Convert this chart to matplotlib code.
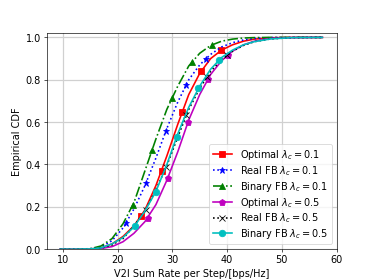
import matplotlib
matplotlib.use('Agg')
import matplotlib.pyplot as plt

plt.rcParams['font.size'] = 12

# sum rate grid (bps/Hz) for the CDF curves
rate = [9.5, 12, 15, 17, 19, 21, 23, 25, 27, 29, 31, 33, 35, 37, 39, 41, 43, 45, 48, 52, 57.4]

# CDF values
cdf_opt_01 = [0, 0, 0.001, 0.006, 0.025, 0.06, 0.11, 0.185, 0.30, 0.44, 0.59, 0.73, 0.83, 0.90, 0.94,
              0.965, 0.982, 0.992, 0.998, 1.0, 1.0]
cdf_real_01 = [0, 0, 0.002, 0.01, 0.04, 0.10, 0.19, 0.30, 0.43, 0.57, 0.695, 0.80, 0.87, 0.92, 0.955,
               0.975, 0.988, 0.995, 0.999, 1.0, 1.0]
cdf_bin_01 = [0, 0, 0.002, 0.015, 0.05, 0.12, 0.22, 0.37, 0.52, 0.66, 0.77, 0.865, 0.925, 0.962, 0.982,
              0.992, 0.997, 0.999, 1.0, 1.0, 1.0]
cdf_opt_05 = [0, 0, 0, 0.003, 0.012, 0.035, 0.075, 0.13, 0.21, 0.325, 0.46, 0.61, 0.73, 0.825, 0.89,
              0.935, 0.965, 0.982, 0.995, 0.999, 1.0]
cdf_real_05 = [0, 0, 0.001, 0.005, 0.02, 0.05, 0.11, 0.18, 0.28, 0.395, 0.53, 0.66, 0.76, 0.84, 0.895,
               0.935, 0.962, 0.98, 0.993, 0.999, 1.0]
cdf_bin_05 = [0, 0, 0.001, 0.006, 0.025, 0.055, 0.105, 0.18, 0.272, 0.40, 0.545, 0.67, 0.77, 0.85, 0.905,
              0.94, 0.965, 0.98, 0.993, 0.999, 1.0]

# marker points
mk_opt_01 = ([24.33, 28.05, 31.7, 35.3, 38.96], [0.158, 0.371, 0.646, 0.841, 0.940])
mk_real_01 = ([21.5, 25.2, 28.8, 32.5, 36.2], [0.122, 0.311, 0.558, 0.776, 0.899])
mk_bin_01 = ([22.8, 26.3, 29.9, 33.6, 37.3], [0.21, 0.466, 0.714, 0.883, 0.966])
mk_opt_05 = ([25.55, 29.2, 32.87, 36.5, 40.1], [0.147, 0.338, 0.602, 0.804, 0.917])
mk_real_05 = ([25.2, 28.9, 32.56, 36.3, 40.06], [0.186, 0.39, 0.635, 0.812, 0.917])
mk_bin_05 = ([23.2, 27.0, 30.8, 34.7, 38.5], [0.111, 0.272, 0.53, 0.759, 0.893])

labels = [r'Optimal $\lambda_c = 0.1$', r'Real FB $\lambda_c = 0.1$', r'Binary FB $\lambda_c = 0.1$',
          r'Optimal $\lambda_c = 0.5$', r'Real FB $\lambda_c = 0.5$', r'Binary FB $\lambda_c = 0.5$']

series = [
    (cdf_opt_01, mk_opt_01, 'r', '-', 's'),
    (cdf_real_01, mk_real_01, 'b', ':', '*'),
    (cdf_bin_01, mk_bin_01, 'g', '-.', '^'),
    (cdf_opt_05, mk_opt_05, 'm', '-', 'p'),
    (cdf_real_05, mk_real_05, 'k', ':', 'x'),
    (cdf_bin_05, mk_bin_05, 'c', '-', 'o'),
]

fig = plt.figure(figsize=(6.4, 4.8), dpi=374 / 6.4)
ax = fig.add_subplot(1, 1, 1)

handles = []
for (cdf, mk, c, ls, m), lab in zip(series, labels):
    line, = ax.plot(rate, cdf, color=c, linestyle=ls, linewidth=2)
    pts, = ax.plot(mk[0], mk[1], color=c, linestyle='none', marker=m, markersize=8)
    handles.append((line, pts))

ax.set(xlabel='V2I Sum Rate per Step/[bps/Hz]',
       ylabel='Empirical CDF',
       xlim=(7.07, 60),
       ylim=(0, 1.02))
ax.grid(True, color='#d0d0d0', linewidth=1.5)
ax.legend(handles, labels, loc='lower right', labelspacing=0.2, borderpad=0.35)

fig.savefig('out.png', dpi=374 / 6.4)
